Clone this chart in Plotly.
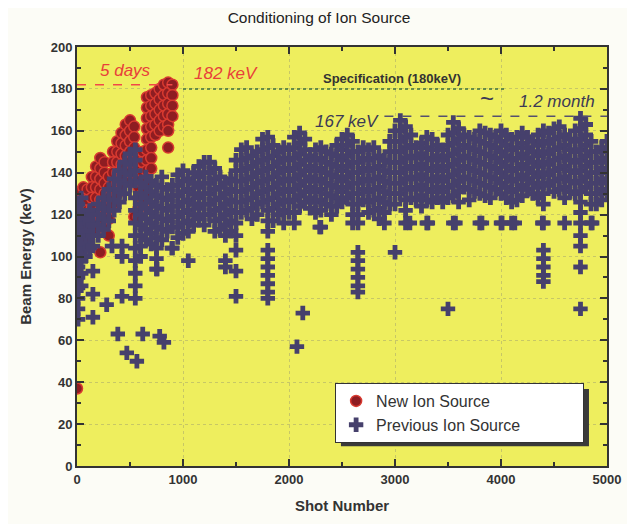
import plotly.graph_objects as go

# --- data ---------------------------------------------------------------
# New ion source: (shot, [beam energies in keV]) columns
new_cols = [
    (0, [128, 123, 118, 113, 108, 103, 37]),
    (30, [131, 126, 121, 116, 111, 106, 101]),
    (60, [133, 128, 123, 118, 113, 108, 104]),
    (100, [132, 127, 122, 117, 112, 107]),
    (140, [138, 133, 128, 123, 118, 113]),
    (180, [143, 138, 133, 128, 123, 118, 113]),
    (220, [147, 142, 137, 132, 127, 122, 117, 102]),
    (260, [145, 140, 135, 130, 125, 120, 114]),
    (300, [138, 133, 128, 123, 118, 110]),
    (340, [150, 145, 140, 135, 130, 125]),
    (380, [155, 150, 145, 140, 135, 130]),
    (420, [159, 154, 149, 144, 139, 134]),
    (460, [163, 158, 153, 148, 143, 138]),
    (500, [165, 160, 155, 150, 145, 140]),
    (540, [162, 157, 152, 147, 142, 137, 119]),
    (580, [148, 143, 138, 133, 128, 123, 119]),
    (620, [150, 145, 140, 135, 130, 125]),
    (660, [176, 171, 166, 161, 156, 151, 146, 141, 136, 131]),
    (700, [177, 172, 167, 162, 157, 152, 147, 142]),
    (740, [178, 173, 168, 163, 158]),
    (780, [180, 175, 170, 165, 160]),
    (820, [182, 177, 172, 167, 162]),
    (860, [183, 178, 173, 168, 163, 160, 152]),
    (900, [182, 177, 172, 167]),
]

# Previous ion source: (shot, [beam energies in keV]) columns
prev_cols = [
    (10, [125, 120, 115, 110, 105, 100, 95, 90, 85, 80, 75, 70]),
    (40, [128, 122, 116, 110, 104, 98, 92, 86]),
    (80, [118, 112, 106, 100]),
    (120, [122, 116, 110, 104]),
    (150, [120, 115, 110, 105]),
    (200, [125, 120, 115, 110]),
    (250, [128, 123, 118, 113]),
    (300, [132, 127, 122, 117]),
    (350, [137, 132, 127, 122]),
    (400, [141, 136, 131, 126]),
    (450, [145, 140, 135, 130]),
    (500, [149, 144, 139, 134]),
    (550, [151, 146, 141, 136, 128, 122, 116, 110, 104, 98, 92, 86, 80]),
    (600, [135, 130, 125, 120, 115, 110, 105, 100]),
    (650, [138, 133, 128, 123, 118, 113, 108]),
    (700, [136, 131, 126, 121, 116, 111, 106]),
    (750, [134, 129, 124, 119, 114, 109, 104, 99, 94]),
    (800, [138, 133, 128, 123, 118, 113, 108]),
    (850, [132, 127, 122, 117, 112]),
    (900, [134, 129, 124, 119, 114, 104]),
    (950, [139, 134, 129, 124, 119, 114, 109]),
    (1000, [141, 136, 131, 126, 121, 116, 111]),
    (1050, [137, 132, 127, 122, 117, 112, 98]),
    (1100, [140, 135, 130, 125, 120, 115]),
    (1150, [143, 138, 133, 128, 123, 118]),
    (1200, [145, 140, 135, 130, 125, 120, 115]),
    (1250, [145, 140, 135, 130, 125, 120]),
    (1300, [142, 137, 132, 127, 122, 117, 112]),
    (1350, [138, 133, 128, 123, 118, 113]),
    (1400, [135, 130, 125, 120, 115, 110, 98, 95]),
    (1450, [137, 132, 127, 122, 117, 112]),
    (1500, [146, 141, 136, 131, 126, 121, 116, 110, 103, 93, 81]),
    (1550, [151, 146, 141, 136, 131, 126, 121]),
    (1600, [152, 147, 142, 137, 132, 127, 122]),
    (1650, [148, 143, 138, 133, 128, 123, 118]),
    (1700, [150, 145, 140, 135, 130, 125, 120]),
    (1750, [156, 151, 146, 141, 136, 131, 126]),
    (1800, [157, 152, 147, 142, 137, 132, 127, 122, 117, 112,
            103, 99, 95, 91, 87, 83, 80]),
    (1850, [153, 148, 143, 138, 133, 128, 123, 117]),
    (1900, [150, 145, 140, 135, 130, 125, 120]),
    (1950, [152, 147, 142, 137, 132, 127, 122, 116]),
    (2000, [151, 146, 141, 136, 131, 126, 121]),
    (2050, [157, 152, 147, 142, 137, 132, 127, 121, 116]),
    (2100, [159, 154, 149, 144, 139, 134, 129, 124]),
    (2150, [156, 151, 146, 141, 136, 131, 126]),
    (2200, [148, 143, 138, 133, 128, 123]),
    (2250, [151, 146, 141, 136, 131, 126, 121]),
    (2300, [152, 147, 142, 137, 132, 127, 122, 114]),
    (2350, [150, 145, 140, 135, 130, 125]),
    (2400, [149, 144, 139, 134, 129, 124, 120]),
    (2450, [153, 148, 143, 138, 133, 128, 124]),
    (2500, [156, 151, 146, 141, 136, 131, 126]),
    (2550, [158, 153, 148, 143, 138, 133, 128]),
    (2600, [155, 150, 145, 140, 135, 130, 125, 120, 116]),
    (2650, [150, 145, 140, 135, 130, 125, 120, 116,
            102, 98, 94, 90, 86, 83]),
    (2700, [152, 147, 142, 137, 132, 127]),
    (2750, [151, 146, 141, 136, 131, 126, 121]),
    (2800, [152, 147, 142, 137, 132, 127, 122]),
    (2850, [148, 143, 138, 133, 128, 123, 118]),
    (2900, [146, 141, 136, 131, 126, 121, 116]),
    (2950, [155, 150, 145, 140, 135, 130, 125]),
    (3000, [160, 155, 150, 145, 140, 135, 130, 125, 102]),
    (3050, [165, 160, 155, 150, 145, 140, 135, 130]),
    (3100, [162, 157, 152, 147, 142, 137, 132, 127, 122, 116]),
    (3150, [158, 153, 148, 143, 138, 133, 128]),
    (3200, [152, 147, 142, 137, 132, 127]),
    (3250, [154, 149, 144, 139, 134, 129, 124]),
    (3300, [157, 152, 147, 142, 137, 132, 127, 116]),
    (3350, [156, 151, 146, 141, 136, 131, 126]),
    (3400, [153, 148, 143, 138, 133, 128]),
    (3450, [151, 146, 141, 136, 131, 126]),
    (3500, [158, 153, 148, 143, 138, 133, 128, 75]),
    (3550, [164, 159, 154, 149, 144, 139, 134, 129, 116]),
    (3600, [161, 156, 151, 146, 141, 136, 131, 126]),
    (3650, [158, 153, 148, 143, 138, 133]),
    (3700, [157, 152, 147, 142, 137, 132, 127]),
    (3750, [156, 151, 146, 141, 136, 131]),
    (3800, [160, 155, 150, 145, 140, 135, 130, 116]),
    (3850, [159, 154, 149, 144, 139, 134, 129]),
    (3900, [158, 153, 148, 143, 138, 133, 128]),
    (3950, [157, 152, 147, 142, 137, 132]),
    (4000, [160, 155, 150, 145, 140, 135, 130, 116]),
    (4050, [158, 153, 148, 143, 138, 133, 128]),
    (4100, [156, 151, 146, 141, 136, 131, 126, 116]),
    (4150, [157, 152, 147, 142, 137, 132, 127]),
    (4200, [159, 154, 149, 144, 139, 134, 129]),
    (4250, [157, 152, 147, 142, 137, 132]),
    (4300, [155, 150, 145, 140, 135, 130]),
    (4350, [158, 153, 148, 143, 138, 133, 128]),
    (4400, [160, 155, 150, 145, 140, 135, 130, 125, 116,
            103, 99, 95, 91, 88]),
    (4450, [159, 154, 149, 144, 139, 134]),
    (4500, [161, 156, 151, 146, 141, 136, 131]),
    (4550, [162, 157, 152, 147, 142, 137, 132]),
    (4600, [158, 153, 148, 143, 138, 133, 128, 116]),
    (4650, [156, 151, 146, 141, 136, 131]),
    (4700, [160, 155, 150, 145, 140, 135, 130]),
    (4750, [166, 161, 156, 151, 146, 141, 136, 131, 126, 121,
            116, 110, 105, 95, 75]),
    (4800, [163, 158, 153, 148, 143, 138, 133]),
    (4850, [155, 150, 145, 140, 135, 130, 125, 116]),
    (4900, [150, 145, 140, 135, 130, 125]),
    (4950, [152, 147, 142, 137, 132, 127]),
    (5000, [155, 150, 145, 140, 135, 130]),
]

# isolated low shots of the previous source
prev_out_shot = [150, 150, 150, 280, 425, 385, 470, 565, 620, 780, 820,
                 330, 425, 425, 755, 895, 2075, 2130, 2290, 3140, 3310,
                 3570, 3820, 4010, 4130, 4390, 4860]
prev_out_kev = [93, 82, 71, 77, 81, 63, 54, 50, 63, 62, 59,
                105, 105, 100, 94, 104, 57, 73, 114, 116, 116,
                116, 116, 116, 116, 116, 116]

new_shot = [x for x, ys in new_cols for _ in ys]
new_kev = [y for _, ys in new_cols for y in ys]
prev_shot = [x for x, ys in prev_cols for _ in ys] + prev_out_shot
prev_kev = [y for _, ys in prev_cols for y in ys] + prev_out_kev

new_max_kev = 182      # 5 days
spec_kev = 180         # specification
prev_max_kev = 167     # ~1.2 month

# --- figure -------------------------------------------------------------
fig = go.Figure()

fig.add_trace(go.Scatter(
    x=new_shot, y=new_kev, mode="markers", name="New Ion Source",
    legendrank=1,
    marker=dict(symbol="circle", size=11, color="#8e1d22",
                line=dict(color="#d83a30", width=1.5)),
))
fig.add_trace(go.Scatter(
    x=prev_shot, y=prev_kev, mode="markers",
    name="Previous Ion Source" + "\u00a0" * 13,
    legendrank=2,
    marker=dict(symbol="cross", size=12, color="#46406c",
                line=dict(width=0)),
))

# reference lines
fig.add_shape(type="line", x0=0, x1=900, y0=new_max_kev, y1=new_max_kev,
              line=dict(color="#f04848", width=1.5, dash="dash"))
fig.add_shape(type="line", x0=1000, x1=4030, y0=spec_kev, y1=spec_kev,
              line=dict(color="#3d7040", width=1.5, dash="dot"))
fig.add_shape(type="line", x0=2900, x1=5000, y0=prev_max_kev, y1=prev_max_kev,
              line=dict(color="#55506e", width=1.5, dash="dash"))

red_txt = dict(family="Liberation Sans", size=17, color="#e8403a")
dark_txt = dict(family="Liberation Sans", size=17, color="#3c3a55")
fig.add_annotation(x=453, y=189, text="<i>5 days</i>", showarrow=False, font=red_txt)
fig.add_annotation(x=1406, y=187.5, text="<i>182 keV</i>", showarrow=False, font=red_txt)
fig.add_annotation(x=2972, y=185, text="<b>Specification (180keV)</b>", showarrow=False,
                   font=dict(family="Liberation Sans", size=13, color="#333"))
fig.add_annotation(x=2547, y=164.5, text="<i>167 keV</i>", showarrow=False, font=dark_txt)
fig.add_annotation(x=3870, y=175.5, text="~", showarrow=False,
                   font=dict(family="Liberation Sans", size=24, color="#3c3a55"))
fig.add_annotation(x=4530, y=174, text="<i>1.2 month</i>", showarrow=False, font=dark_txt)

# legend shadow
fig.add_shape(type="rect", xref="paper", yref="paper",
              x0=0.498, x1=0.966, y0=0.047, y1=0.184,
              fillcolor="#3a3a3a", line=dict(width=0), layer="above")

axis_common = dict(
    showline=True, linecolor="#333", linewidth=2, mirror="allticks",
    ticks="inside", ticklen=7, tickwidth=1.5, tickcolor="#333",
    showgrid=True, gridcolor="rgba(160,160,110,0.5)", griddash="dot", gridwidth=1,
    zeroline=False, automargin=False,
    tickfont=dict(family="Liberation Sans", size=13, color="#333", weight="bold"),
)

fig.update_xaxes(range=[0, 5000], dtick=1000,
                 minor=dict(dtick=500, ticks="inside", ticklen=4, tickcolor="#333"),
                 title=dict(text="<b>Shot Number</b>",
                            font=dict(family="Liberation Sans", size=15, color="#333")),
                 **axis_common)
fig.update_yaxes(range=[0, 200], dtick=20,
                 minor=dict(dtick=10, ticks="inside", ticklen=4, tickcolor="#333"),
                 title=dict(text="<b>Beam Energy (keV)</b>",
                            font=dict(family="Liberation Sans", size=15, color="#333")),
                 **axis_common)

# the page body adds an 8 px offset, so the figure is 8 px smaller
fig.update_layout(
    width=627, height=516,
    margin=dict(l=69, r=28, t=39, b=58, autoexpand=False),
    paper_bgcolor="#fcfcf6",
    plot_bgcolor="#eeee5e",
    title=dict(text="Conditioning of Ion Source", x=0.496, xanchor="center",
               y=0.981, yanchor="middle",
               font=dict(family="Liberation Sans", size=15.5, color="#222")),
    legend=dict(x=0.487, y=0.198, xanchor="left", yanchor="top",
                bgcolor="white", bordercolor="#333", borderwidth=1,
                font=dict(family="Liberation Sans", size=16, color="#333"),
                tracegroupgap=0),
    showlegend=True,
)

fig.write_html("out.html")
